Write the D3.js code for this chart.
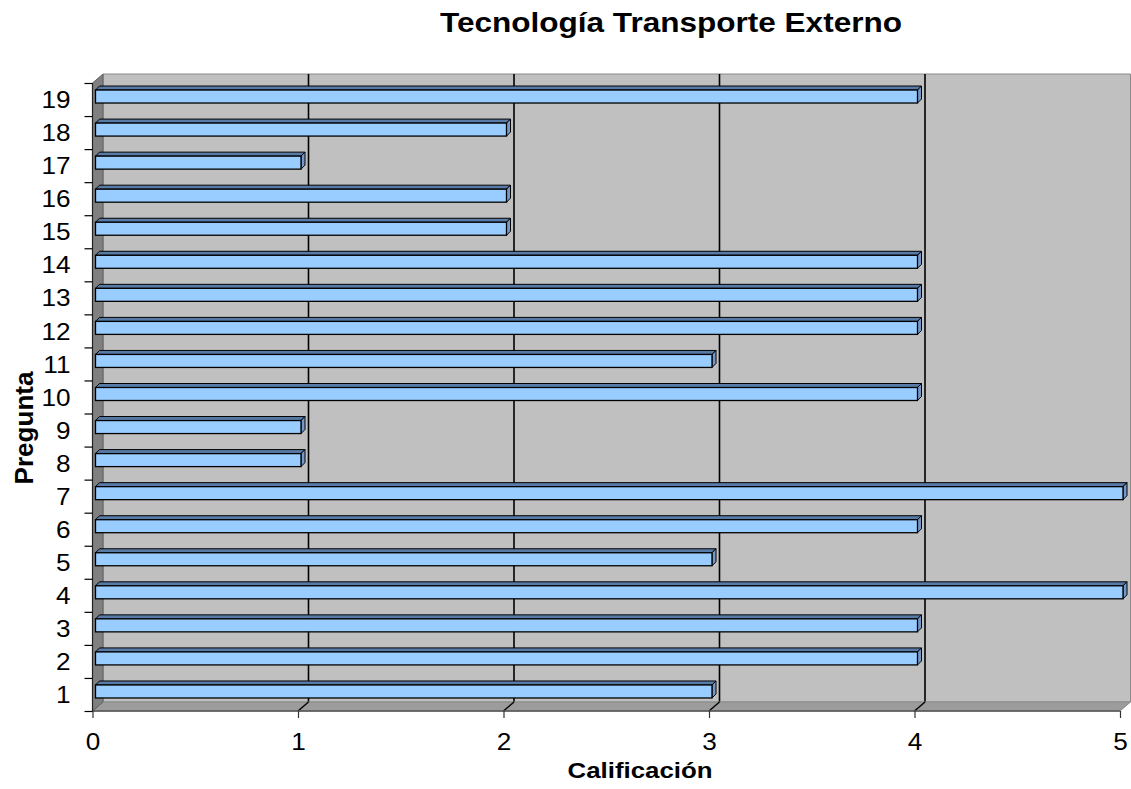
<!DOCTYPE html>
<html>
<head>
<meta charset="utf-8">
<script src="https://cdn.jsdelivr.net/npm/d3@7"></script>
<style>
  html, body { margin: 0; padding: 0; background: #ffffff; }
  svg { display: block; }
  text { font-family: "Liberation Sans", Arial, sans-serif; fill: #000; }
</style>
</head>
<body>
<svg id="chart" width="1131" height="789"></svg>
<script>
// Survey results: score given to each question
const categories = ["1","2","3","4","5","6","7","8","9","10","11","12","13","14","15","16","17","18","19"];
const scores     = [3, 4, 4, 5, 3, 4, 5, 1, 1, 4, 3, 4, 4, 4, 2, 2, 1, 2, 4];
const xTicks     = [0, 1, 2, 3, 4, 5];

const chartTitle = "Tecnología Transporte Externo";
const xTitle = "Calificación";
const yTitle = "Pregunta";

const svg = d3.select("#chart");

// Front plane of the 3‑D box and its depth offset
const pLeft = 92.5, pRight = 1120, pTop = 83, pBottom = 711;
const DX = 10.5, DY = 9;           // wall depth
const bdx = 4, bdy = 4;            // bar depth
const barOff = 3;                  // bar front face shift into the box
const barH = 13;

const x = d3.scaleLinear().domain([0, 5]).range([pLeft, pRight]);
const y = d3.scaleBand().domain(categories).range([pBottom, pTop]).padding(0);

const poly = pts => pts.map(p => p.join(",")).join(" ");

// Widen glyphs horizontally by a factor (keeps text as text)
function widen(sel, k) {
  sel.each(function () {
    const w = this.getComputedTextLength();
    d3.select(this).attr("textLength", w * k).attr("lengthAdjust", "spacingAndGlyphs");
  });
}

// Back wall
svg.append("polygon")
  .attr("points", poly([[pLeft + DX, pTop - DY], [pRight + DX, pTop - DY], [pRight + DX, pBottom - DY], [pLeft + DX, pBottom - DY]]))
  .attr("fill", "#c0c0c0")
  .attr("stroke", "#8a8a8a").attr("stroke-width", 1);

// Vertical gridlines on the back wall
svg.append("g").selectAll("line")
  .data(xTicks.filter(t => t > 0 && t < 5))
  .join("line")
  .attr("x1", d => x(d) + DX).attr("x2", d => x(d) + DX)
  .attr("y1", pTop - DY).attr("y2", pBottom - DY)
  .attr("stroke", "#000").attr("stroke-width", 1.6);

// Floor
svg.append("polygon")
  .attr("points", poly([[pLeft, pBottom], [pLeft + DX, pBottom - DY], [pRight + DX, pBottom - DY], [pRight, pBottom]]))
  .attr("fill", "#9c9c9c")
  .attr("stroke", "#8a8a8a").attr("stroke-width", 1);

// Gridlines running across the floor
svg.append("g").selectAll("line")
  .data(xTicks.filter(t => t > 0 && t < 5))
  .join("line")
  .attr("x1", d => x(d)).attr("y1", pBottom)
  .attr("x2", d => x(d) + DX).attr("y2", pBottom - DY)
  .attr("stroke", "#000").attr("stroke-width", 1.4);

// Left wall
svg.append("polygon")
  .attr("points", poly([[pLeft, pTop], [pLeft + DX, pTop - DY], [pLeft + DX, pBottom - DY], [pLeft, pBottom]]))
  .attr("fill", "#808080")
  .attr("stroke", "#606060").attr("stroke-width", 1);

// Front edges of the box
svg.append("line")
  .attr("x1", pLeft).attr("x2", pRight).attr("y1", pBottom).attr("y2", pBottom)
  .attr("stroke", "#555").attr("stroke-width", 1.5);
svg.append("line")
  .attr("x1", pLeft).attr("x2", pLeft).attr("y1", pTop).attr("y2", pBottom)
  .attr("stroke", "#222").attr("stroke-width", 1.2);

// Bars as 3‑D boxes
const data = categories.map((c, i) => ({ cat: c, v: scores[i] }));
const bars = svg.append("g").selectAll("g")
  .data(data)
  .join("g");

const fx0 = d => x(0) + barOff;
const fx1 = d => x(d.v) + barOff;
const fy0 = d => y(d.cat) + y.bandwidth() / 2 - 3 - barH / 2;
const fy1 = d => fy0(d) + barH;

// top face
bars.append("polygon")
  .attr("points", d => poly([[fx0(d), fy0(d)], [fx0(d) + bdx, fy0(d) - bdy], [fx1(d) + bdx, fy0(d) - bdy], [fx1(d), fy0(d)]]))
  .attr("fill", "#587aa6").attr("stroke", "#000").attr("stroke-width", 1).attr("stroke-linejoin", "round");
// end face
bars.append("polygon")
  .attr("points", d => poly([[fx1(d), fy0(d)], [fx1(d) + bdx, fy0(d) - bdy], [fx1(d) + bdx, fy1(d) - bdy], [fx1(d), fy1(d)]]))
  .attr("fill", "#7499c8").attr("stroke", "#000").attr("stroke-width", 1).attr("stroke-linejoin", "round");
// front face
bars.append("rect")
  .attr("x", fx0).attr("y", fy0)
  .attr("width", d => fx1(d) - fx0(d)).attr("height", barH)
  .attr("fill", "#99ccff").attr("stroke", "#000").attr("stroke-width", 1.3);

// X axis
const xAxis = svg.append("g")
  .attr("transform", `translate(0,${pBottom})`)
  .call(d3.axisBottom(x).tickValues(xTicks).tickFormat(d3.format("d")).tickSize(7).tickPadding(15));
xAxis.select(".domain").remove();
xAxis.selectAll(".tick line").attr("stroke", "#333").attr("stroke-width", 1.2);
xAxis.selectAll(".tick text")
  .attr("font-size", 24).attr("font-family", "Liberation Sans, Arial, sans-serif")
  .call(widen, 1.09);

// Y axis: tick marks at category boundaries, labels at category centres
const yb = d3.scaleLinear().domain([0, categories.length]).range([pBottom, pTop]);
const yTickG = svg.append("g")
  .attr("transform", `translate(${pLeft},0)`)
  .call(d3.axisLeft(yb).tickValues(d3.range(0, categories.length + 1)).tickSize(8).tickFormat(""));
yTickG.select(".domain").remove();
yTickG.selectAll(".tick line").attr("stroke", "#000").attr("stroke-width", 1.2);

const yLab = svg.append("g")
  .attr("transform", `translate(${pLeft},0)`)
  .call(d3.axisLeft(y).tickSize(0).tickPadding(22));
yLab.select(".domain").remove();
yLab.selectAll(".tick text")
  .attr("font-size", 24).attr("font-family", "Liberation Sans, Arial, sans-serif")
  .attr("dy", "0.36em")
  .call(widen, 1.09);

// Titles
svg.append("text")
  .attr("x", 671).attr("y", 32)
  .attr("text-anchor", "middle")
  .attr("font-size", 28).attr("font-weight", "bold")
  .text(chartTitle)
  .attr("textLength", 462).attr("lengthAdjust", "spacingAndGlyphs");

svg.append("text")
  .attr("x", 640).attr("y", 778)
  .attr("text-anchor", "middle")
  .attr("font-size", 22).attr("font-weight", "bold")
  .text(xTitle)
  .attr("textLength", 145).attr("lengthAdjust", "spacingAndGlyphs");

svg.append("text")
  .attr("transform", "translate(33,428) rotate(-90)")
  .attr("text-anchor", "middle")
  .attr("font-size", 25).attr("font-weight", "bold")
  .text(yTitle)
  .attr("textLength", 113).attr("lengthAdjust", "spacingAndGlyphs");
</script>
</body>
</html>
